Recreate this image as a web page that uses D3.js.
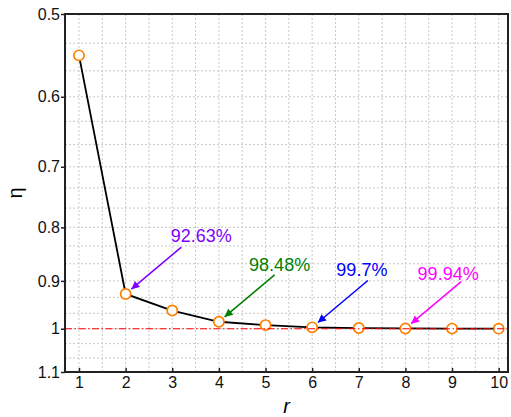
<!DOCTYPE html>
<html>
<head>
<meta charset="UTF-8">
<style>
    body { margin: 0; background: #fff; }
    svg text { font-family: "Liberation Sans", Arial, sans-serif; }
</style>
</head>
<body>
<svg></svg>
<script src="https://d3js.org/d3.v7.min.js"></script>
<script>
    // data
    const rValues = [1, 2, 3, 4, 5, 6, 7, 8, 9, 10];
    const etaValues = [0.5477, 0.9263, 0.9608, 0.9848, 0.992, 0.997, 0.9985, 0.9994, 0.9997, 0.9998];
    const xTicks = [1, 2, 3, 4, 5, 6, 7, 8, 9, 10];
    const yTicks = [0.5, 0.6, 0.7, 0.8, 0.9, 1, 1.1];
    const refValue = 1;

    const noteLabels = ["92.63%", "98.48%", "99.7%", "99.94%"];
    const noteR = [2, 4, 6, 8];
    const noteColors = ["#8000ff", "#008000", "#0000ff", "#ff00ff"];
    // text offset from arrow start (px), layout only
    const noteTextDx = [20, 5, -6, -13];
    const noteTextDy = [-5, -4, -5, -2];

    const width = 511, height = 417;
    const mLeft = 65, mRight = 508, mTop = 14, mBottom = 372;

    const svg = d3.select("svg")
        .attr("width", width)
        .attr("height", height);

    const x = d3.scaleLinear().domain([0.7, 10.2]).range([mLeft, mRight]);
    const y = d3.scaleLog().domain([0.5, 1.1]).range([mTop, mBottom]);

    svg.append("defs").selectAll("marker")
        .data(noteColors)
        .enter().append("marker")
        .attr("id", (d, i) => "arr" + i)
        .attr("viewBox", "0 -5 10 10")
        .attr("refX", 10)
        .attr("refY", 0)
        .attr("markerUnits", "userSpaceOnUse")
        .attr("markerWidth", 11)
        .attr("markerHeight", 8)
        .attr("orient", "auto")
        .append("path")
        .attr("d", "M0,-5L10,0L0,5Z")
        .attr("fill", d => d);

    // grid
    const grid = svg.append("g")
        .attr("stroke", "#c8c8c8")
        .attr("stroke-width", 1)
        .attr("stroke-dasharray", "2,2");

    const xGrid = d3.range(1, 10.01, 0.5);
    grid.selectAll(".vg").data(xGrid).enter().append("line")
        .attr("x1", d => x(d)).attr("x2", d => x(d))
        .attr("y1", mTop).attr("y2", mBottom);

    const yGrid = d3.range(1, 18).map(k => 0.5 + k / 30);
    grid.selectAll(".hg").data(yGrid).enter().append("line")
        .attr("x1", mLeft).attr("x2", mRight)
        .attr("y1", d => y(d)).attr("y2", d => y(d));

    // data line + markers
    const pts = rValues.map((r, i) => [r, etaValues[i]]);
    svg.append("path")
        .datum(pts)
        .attr("fill", "none")
        .attr("stroke", "#000")
        .attr("stroke-width", 1.8)
        .attr("d", d3.line().x(d => x(d[0])).y(d => y(d[1])));

    svg.append("g").selectAll("circle")
        .data(pts)
        .enter().append("circle")
        .attr("cx", d => x(d[0]))
        .attr("cy", d => y(d[1]))
        .attr("r", 5.1)
        .attr("fill", "#fff")
        .attr("stroke", "#ff8000")
        .attr("stroke-width", 1.7);

    // reference line at eta = 1
    svg.append("line")
        .attr("x1", mLeft).attr("x2", mRight)
        .attr("y1", y(refValue)).attr("y2", y(refValue))
        .attr("stroke", "#ff0000")
        .attr("stroke-width", 1.1)
        .attr("stroke-dasharray", "7,2.5,1.5,2.5");

    // annotations
    const ux = 50 / Math.hypot(50, 42), uy = -42 / Math.hypot(50, 42);
    noteLabels.forEach((lab, i) => {
        const idx = rValues.indexOf(noteR[i]);
        const px = x(rValues[idx]), py = y(etaValues[idx]);
        const tx = px + ux * 7.5, ty = py + uy * 7.5;
        const sx = tx + 50, sy = ty - 42;
        svg.append("line")
            .attr("x1", sx).attr("y1", sy)
            .attr("x2", tx).attr("y2", ty)
            .attr("stroke", noteColors[i])
            .attr("stroke-width", 1.5)
            .attr("marker-end", "url(#arr" + i + ")");
        svg.append("text")
            .attr("x", sx + noteTextDx[i])
            .attr("y", sy + noteTextDy[i])
            .attr("text-anchor", "middle")
            .attr("font-size", 18)
            .attr("fill", noteColors[i])
            .text(lab);
    });

    // axes
    const xAxis = svg.append("g")
        .attr("transform", "translate(0," + mBottom + ")")
        .call(d3.axisBottom(x).tickValues(xTicks).tickFormat(d3.format("d"))
            .tickSizeInner(-4).tickSizeOuter(0).tickPadding(5));
    const yAxis = svg.append("g")
        .attr("transform", "translate(" + mLeft + ",0)")
        .call(d3.axisLeft(y).tickValues(yTicks).tickFormat(d => String(d))
            .tickSizeInner(4).tickSizeOuter(0).tickPadding(1));
    [xAxis, yAxis].forEach(a => {
        a.select(".domain").remove();
        a.selectAll(".tick line").attr("stroke", "#222").attr("stroke-width", 1.5);
        a.selectAll(".tick text")
            .attr("font-size", 16)
            .attr("fill", "#111")
            .style("font-family", "'Liberation Sans', Arial, sans-serif");
    });

    // frame
    svg.append("rect")
        .attr("x", mLeft).attr("y", mTop)
        .attr("width", mRight - mLeft).attr("height", mBottom - mTop)
        .attr("fill", "none")
        .attr("stroke", "#222")
        .attr("stroke-width", 2);

    svg.append("text")
        .attr("x", (mLeft + mRight) / 2)
        .attr("y", 413)
        .attr("text-anchor", "middle")
        .attr("font-size", 20)
        .attr("font-style", "italic")
        .text("r");

    svg.append("text")
        .attr("transform", "translate(22," + (mTop + mBottom) / 2 + ") rotate(-90)")
        .attr("text-anchor", "middle")
        .attr("font-size", 20)
        .text("η");
</script>
</body>
</html>
